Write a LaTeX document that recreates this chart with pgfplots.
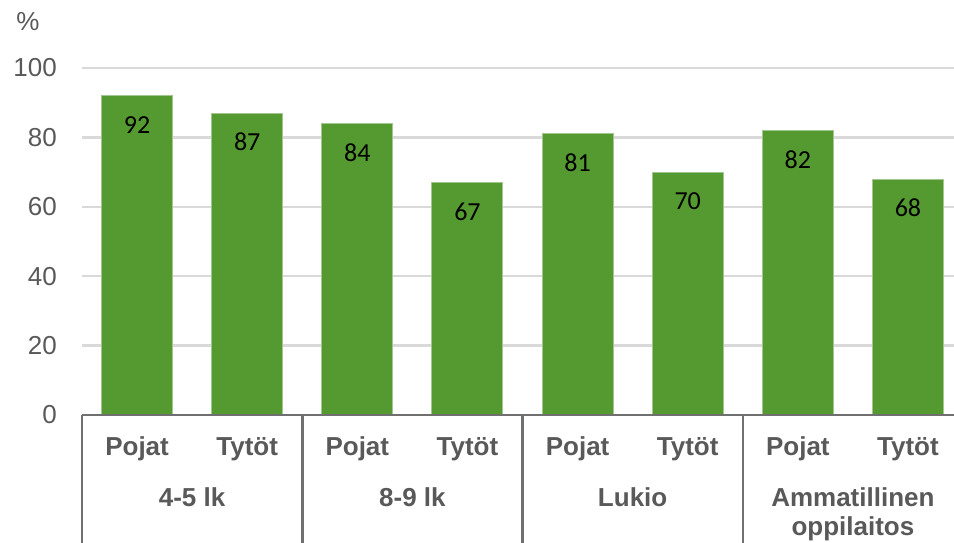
\documentclass[border=0pt]{standalone}
\usepackage{fontspec}
\setmainfont{Liberation Sans}
\newfontfamily\carlito{Carlito}
\usepackage{pgfplots}
\pgfplotsset{compat=1.18}
\definecolor{bargreen}{HTML}{559A31}
\definecolor{txtgray}{HTML}{595959}
\definecolor{gridgray}{HTML}{D9D9D9}
\definecolor{axgray}{HTML}{707070}
\begin{document}
\begin{tikzpicture}
\begin{axis}[
  scale only axis, width=872pt, height=347pt,
  xmin=-0.5, xmax=7.418, ymin=0, ymax=100,
  ytick={0,20,...,100},
  xtick=data,
  xticklabels={Pojat,Tytöt,Pojat,Tytöt,Pojat,Tytöt,Pojat,Tytöt},
  axis line style={draw=none},
  major tick length=0pt,
  ymajorgrids, grid style={gridgray, line width=2.5pt},
  /pgf/number format/assume math mode=true,
  tick label style={font=\fontsize{26}{30}\selectfont, text=txtgray},
  yticklabel style={anchor=east, inner sep=0pt, xshift=-25pt},
  xticklabel style={font=\fontsize{26}{30}\selectfont\bfseries, anchor=base, inner sep=0pt, yshift=-41pt},
  clip=false,
  ybar, bar width=71pt, bar shift=0pt,
  nodes near coords,
  every node near coord/.append style={font=\carlito\fontsize{26}{30}\selectfont, text=black, anchor=center, yshift=-29pt},
]
\addplot[fill=bargreen, draw=bargreen!55!white, line width=1pt] coordinates {
  (0,92) (1,87) (2,84) (3,67) (4,81) (5,70) (6,82) (7,68)};
\coordinate (O) at (axis cs:-0.5,0);
\draw[axgray, line width=2.5pt] (axis cs:-0.5,0) -- (axis cs:7.418,0);
\draw[axgray, line width=2.5pt] (axis cs:-0.5,0) -- ([yshift=-130pt]axis cs:-0.5,0);
\draw[axgray, line width=2.5pt] (axis cs:1.5,0) -- ([yshift=-130pt]axis cs:1.5,0);
\draw[axgray, line width=2.5pt] (axis cs:3.5,0) -- ([yshift=-130pt]axis cs:3.5,0);
\draw[axgray, line width=2.5pt] (axis cs:5.5,0) -- ([yshift=-130pt]axis cs:5.5,0);
\node[font=\fontsize{26}{30}\selectfont\bfseries, text=txtgray, anchor=base] at ([yshift=-92pt]axis cs:0.5,0) {4-5 lk};
\node[font=\fontsize{26}{30}\selectfont\bfseries, text=txtgray, anchor=base] at ([yshift=-92pt]axis cs:2.5,0) {8-9 lk};
\node[font=\fontsize{26}{30}\selectfont\bfseries, text=txtgray, anchor=base] at ([yshift=-92pt]axis cs:4.5,0) {Lukio};
\node[font=\fontsize{26}{30}\selectfont\bfseries, text=txtgray, anchor=base] at ([yshift=-92pt]axis cs:6.5,0) {Ammatillinen};
\node[font=\fontsize{26}{30}\selectfont\bfseries, text=txtgray, anchor=base] at ([yshift=-121pt]axis cs:6.5,0) {oppilaitos};
\node[font=\fontsize{26}{30}\selectfont, text=txtgray, anchor=center] at ([xshift=-54pt, yshift=46pt]axis cs:-0.5,100) {\%};
\end{axis}
\pgfresetboundingbox
\path[use as bounding box] ([shift={(-82pt,-128pt)}]O) rectangle ([shift={(872pt,415pt)}]O);
\end{tikzpicture}
\end{document}
